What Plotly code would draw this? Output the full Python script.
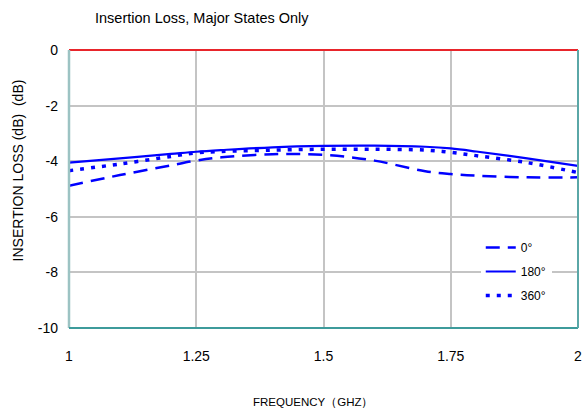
import plotly.graph_objects as go

freq = [1.0, 1.1, 1.2, 1.25, 1.3, 1.4, 1.5, 1.6, 1.7, 1.75, 1.8, 1.9, 2.0]
loss_0 = [-4.88, -4.5, -4.15, -3.98, -3.86, -3.75, -3.77, -3.98, -4.36, -4.46, -4.52, -4.58, -4.58]
loss_180 = [-4.05, -3.9, -3.74, -3.66, -3.6, -3.5, -3.45, -3.44, -3.48, -3.54, -3.65, -3.9, -4.17]
loss_360 = [-4.34, -4.1, -3.83, -3.7, -3.65, -3.6, -3.57, -3.57, -3.6, -3.68, -3.8, -4.05, -4.41]

x_ticks = [1, 1.25, 1.5, 1.75, 2]
x_tick_text = ["1", "1.25", "1.5", "1.75", "2"]
y_ticks = [0, -2, -4, -6, -8, -10]
y_tick_text = ["0", "-2", "-4", "-6", "-8", "-10"]

FONT = "Liberation Sans, Arial, sans-serif"
BLUE = "#0000ff"

W, H = 582, 410
L, R, T, B = 69, 0, 50, 82
PW, PH = W - L - R, H - T - B


def px(xp):
    return (xp - L) / PW


def py(yp):
    return (T + PH - yp) / PH


fig = go.Figure()
fig.add_trace(go.Scatter(x=freq, y=loss_0, mode="lines", name="0°", legendgroup="a",
                         line=dict(color=BLUE, width=2.5, dash="14px,8px", shape="spline")))
fig.add_trace(go.Scatter(x=freq, y=loss_180, mode="lines", name="180°", legendgroup="b",
                         line=dict(color=BLUE, width=2.2, shape="spline")))
fig.add_trace(go.Scatter(x=freq, y=loss_360, mode="lines", name="360°", legendgroup="c",
                         line=dict(color=BLUE, width=3.5, dash="4px,7px", shape="spline")))

fig.update_layout(
    width=W, height=H,
    margin=dict(l=L, r=R, t=T, b=B),
    paper_bgcolor="white", plot_bgcolor="white",
    font=dict(family=FONT, color="#000000"),
    showlegend=True,
    legend=dict(x=px(484), y=py(233), xanchor="left", yanchor="top",
                bgcolor="white", font=dict(size=12, family=FONT),
                itemwidth=30, tracegroupgap=5),
    title=dict(text="Insertion Loss, Major States Only", x=95 / W, xanchor="left",
               y=1 - 18 / H, yanchor="middle", font=dict(size=14.5, family=FONT)),
    xaxis=dict(range=[1, 2], tickvals=x_ticks, ticktext=x_tick_text,
               showgrid=True, gridcolor="#c4c4c4", gridwidth=1.5,
               zeroline=False, showline=False, ticks="",
               ticklabeloverflow="allow",
               tickfont=dict(size=14, family=FONT), ticklabelstandoff=18),
    yaxis=dict(range=[-10, 0], tickvals=y_ticks, ticktext=y_tick_text,
               showgrid=True, gridcolor="#c4c4c4", gridwidth=1.5,
               zeroline=False, showline=False, ticks="",
               ticklabeloverflow="allow",
               tickfont=dict(size=14, family=FONT), ticklabelstandoff=10),
    shapes=[
        dict(type="line", xref="paper", yref="paper", x0=0, x1=1, y0=1, y1=1,
             line=dict(color="#e8252b", width=2)),
        dict(type="line", xref="paper", yref="paper", x0=0, x1=0, y0=0, y1=1,
             line=dict(color="#9cc3c3", width=2.5)),
        dict(type="line", xref="paper", yref="paper", x0=0, x1=1, y0=0, y1=0,
             line=dict(color="#3d9b9b", width=2)),
        dict(type="line", xref="paper", yref="paper", x0=1, x1=1, y0=0, y1=1,
             line=dict(color="#5aa7a7", width=2)),
    ],
    annotations=[
        dict(text="INSERTION LOSS (dB)  (dB)", xref="paper", yref="paper",
             x=px(18), y=py(170), xanchor="center", yanchor="middle",
             textangle=-90, showarrow=False, font=dict(size=14, family=FONT)),
        dict(text="FREQUENCY（GHZ）", xref="paper", yref="paper",
             x=px(315), y=py(402), xanchor="center", yanchor="middle",
             showarrow=False, font=dict(size=11.5, family=FONT)),
    ],
)

fig.write_html("out.html", config={"displayModeBar": False},
               post_script="document.body.style.margin='0px';")
